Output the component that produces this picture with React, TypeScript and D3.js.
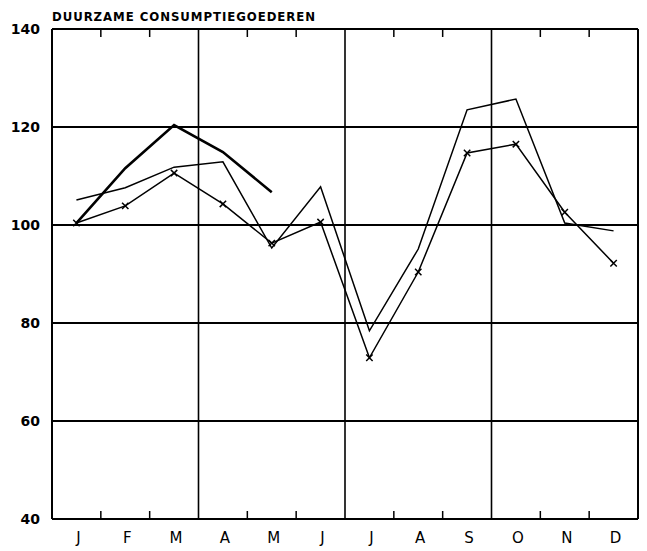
import React from 'react';
import * as d3 from 'd3';

// Month labels (O = Oktober)
const months = ['J', 'F', 'M', 'A', 'M', 'J', 'J', 'A', 'S', 'O', 'N', 'D'];
const yTicks = [40, 60, 80, 100, 120, 140];

// thick line, Jan - May only
const seriesThick = [100.4, 111.6, 120.4, 114.9, 106.7];
// thin line, no markers
const seriesThin = [105.1, 107.6, 111.8, 112.9, 95.3, 107.8, 78.4, 95.1, 123.5, 125.7, 100.4, 98.8];
// thin line with x markers
const seriesCross = [100.4, 103.9, 110.6, 104.3, 96.3, 100.6, 72.9, 90.4, 114.7, 116.5, 102.6, 92.2];

const W = 647;
const H = 551;
const left = 52;
const right = 638;
const top = 29;
const bottom = 519;

const font = '"DejaVu Sans", sans-serif';

const App = () => {
  const x = d3.scaleLinear().domain([0, 12]).range([left, right]);
  const y = d3.scaleLinear().domain([40, 140]).range([bottom, top]);

  const line = d3
    .line<number>()
    .x((d, i) => x(i + 0.5))
    .y((d) => y(d));

  const cross = 3.2;

  return (
    <svg
      width={W}
      height={H}
      style={{ position: 'absolute', left: 0, top: 0, background: '#fff' }}
    >
      <text
        x={left}
        y={21}
        fontFamily={font}
        fontWeight="bold"
        fontSize={12.5}
        letterSpacing={1}
        textLength={264}
        lengthAdjust="spacingAndGlyphs"
        fill="#000"
      >
        DUURZAME CONSUMPTIEGOEDEREN
      </text>

      {/* horizontal grid */}
      {yTicks.map((t) => (
        <g key={t}>
          <line x1={left} x2={right} y1={y(t)} y2={y(t)} stroke="#000" strokeWidth={2} />
          <text
            x={40}
            y={y(t) + 5}
            textAnchor="end"
            fontFamily={font}
            fontWeight="bold"
            fontSize={14}
            fill="#000"
          >
            {t}
          </text>
        </g>
      ))}

      {/* quarter lines and month ticks */}
      {d3.range(0, 13).map((m) =>
        m % 3 === 0 ? (
          <line key={m} x1={x(m)} x2={x(m)} y1={top} y2={bottom} stroke="#000" strokeWidth={m === 0 || m === 12 ? 2 : 1.6} />
        ) : (
          <g key={m}>
            <line x1={x(m)} x2={x(m)} y1={top} y2={top + 8} stroke="#000" strokeWidth={1.5} />
            <line x1={x(m)} x2={x(m)} y1={bottom} y2={bottom - 8} stroke="#000" strokeWidth={1.5} />
          </g>
        )
      )}

      {months.map((m, i) => (
        <text
          key={i}
          x={x(i + 0.5) + 2}
          y={543}
          textAnchor="middle"
          fontFamily={font}
          fontSize={15}
          fill="#000"
        >
          {m}
        </text>
      ))}

      <path d={line(seriesThin) ?? ''} fill="none" stroke="#000" strokeWidth={1.5} strokeLinejoin="miter" />
      <path d={line(seriesCross) ?? ''} fill="none" stroke="#000" strokeWidth={1.5} />
      <path d={line(seriesThick) ?? ''} fill="none" stroke="#000" strokeWidth={2.6} />

      {seriesCross.map((v, i) => (
        <path
          key={i}
          d={`M${x(i + 0.5) - cross},${y(v) - cross}L${x(i + 0.5) + cross},${y(v) + cross}M${x(i + 0.5) - cross},${y(v) + cross}L${x(i + 0.5) + cross},${y(v) - cross}`}
          stroke="#000"
          strokeWidth={1.5}
        />
      ))}
    </svg>
  );
};

export default App;
